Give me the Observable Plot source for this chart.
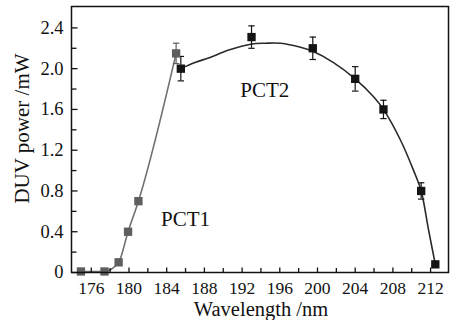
<!DOCTYPE html>
<html><head><meta charset="utf-8">
<script src="https://cdn.jsdelivr.net/npm/d3@7"></script>
<script src="https://cdn.jsdelivr.net/npm/@observablehq/plot@0.6"></script>
<style>
body{margin:0;background:#fff}
#chart svg, #chart svg text {font-family: "Liberation Serif", "Times New Roman", serif !important;}
</style>
</head><body><div id="chart"></div>
<script>
// PCT1 (grey) measured points
const pct1X = [174.9, 177.4, 178.9, 179.9, 181.0, 185.0];
const pct1Y = [0.01, 0.01, 0.10, 0.40, 0.70, 2.15];
const pct1Err = [0, 0, 0, 0, 0.03, 0.10];
// PCT2 (black) measured points
const pct2X = [185.5, 193.0, 199.5, 204.0, 207.0, 211.0, 212.5];
const pct2Y = [2.00, 2.31, 2.20, 1.90, 1.60, 0.80, 0.08];
const pct2Err = [0.12, 0.11, 0.11, 0.12, 0.09, 0.08, 0];
// PCT2 fitted curve
const fitX = [185.5, 187.0, 188.6, 190.5, 192.9, 194.5, 196.1, 198.2, 199.5, 201.7, 204.0, 206.0, 207.0, 208.8, 210.2, 211.0, 211.8, 212.5];
const fitY = [2.00, 2.06, 2.11, 2.18, 2.24, 2.25, 2.25, 2.21, 2.17, 2.06, 1.90, 1.72, 1.60, 1.30, 1.00, 0.80, 0.41, 0.08];
// ticks
const xTicks = [176, 180, 184, 188, 192, 196, 200, 204, 208, 212];
const xMinor = [178, 182, 186, 190, 194, 198, 202, 206, 210];
const yTicks = [0, 0.4, 0.8, 1.2, 1.6, 2.0, 2.4];
const yMinor = [0.2, 0.6, 1.0, 1.4, 1.8, 2.2];
// annotations
const noteText = ["PCT1", "PCT2"];
const noteX = [186.0, 194.4];
const noteY = [0.52, 1.79];
const xLabel = "Wavelength /nm";
const yLabel = "DUV power /mW";

const pct1 = pct1X.map((x, i) => ({x, y: pct1Y[i], e: pct1Err[i]}));
const pct2 = pct2X.map((x, i) => ({x, y: pct2Y[i], e: pct2Err[i]}));
const fit = fitX.map((x, i) => ({x, y: fitY[i]}));

const FONT = "'Liberation Serif', 'Times New Roman', serif";
const grey = "#5e5e5e", black = "#141414";
const tickUp = (len) => ({draw(c) { c.moveTo(0, 0); c.lineTo(0, -len); }});
const tickRight = (len) => ({draw(c) { c.moveTo(0, 0); c.lineTo(len, 0); }});
const cap = {draw(c) { c.moveTo(-3.2, 0); c.lineTo(3.2, 0); }};

function errMarks(data, color) {
  const d = data.filter(p => p.e > 0);
  return [
    Plot.ruleX(d, {x: "x", y1: p => p.y - p.e, y2: p => p.y + p.e, stroke: color, strokeWidth: 1.2}),
    Plot.dot(d, {x: "x", y: p => p.y + p.e, symbol: cap, stroke: color, fill: "none", strokeWidth: 1.2}),
    Plot.dot(d, {x: "x", y: p => p.y - p.e, symbol: cap, stroke: color, fill: "none", strokeWidth: 1.2})
  ];
}

const plot = Plot.plot({
  width: 456, height: 320,
  marginLeft: 71, marginRight: 8, marginTop: 6, marginBottom: 48,
  style: {fontFamily: FONT, fontSize: "18px", color: "#111", background: "white"},
  x: {domain: [173.9, 213.9]},
  y: {domain: [0, 2.61]},
  marks: [
    Plot.line(pct1, {x: "x", y: "y", curve: "monotone-x", stroke: "#707070", strokeWidth: 1.6}),
    Plot.line(fit, {x: "x", y: "y", curve: "catmull-rom", stroke: "#2a2a2a", strokeWidth: 1.6}),
    ...errMarks(pct1, grey),
    ...errMarks(pct2, black),
    Plot.dot(pct1, {x: "x", y: "y", symbol: "square", r: 4.7, fill: grey, stroke: "none"}),
    Plot.dot(pct2, {x: "x", y: "y", symbol: "square", r: 4.7, fill: black, stroke: "none"}),
    Plot.frame({stroke: "#111", strokeWidth: 1.5}),
    Plot.dot(xTicks, {x: d => d, frameAnchor: "bottom", symbol: tickUp(5), stroke: "#111", fill: "none", strokeWidth: 1.3}),
    Plot.dot(xMinor, {x: d => d, frameAnchor: "bottom", symbol: tickUp(4.5), stroke: "#111", fill: "none", strokeWidth: 1.3}),
    Plot.dot(yTicks, {y: d => d, frameAnchor: "left", symbol: tickRight(6), stroke: "#111", fill: "none", strokeWidth: 1.3}),
    Plot.dot(yMinor, {y: d => d, frameAnchor: "left", symbol: tickRight(5), stroke: "#111", fill: "none", strokeWidth: 1.3}),
    Plot.axisX(xTicks, {tickSize: 0, tickPadding: 9, label: null, fontFamily: FONT, fontSize: 17.5}),
    Plot.axisY(yTicks, {tickSize: 0, tickPadding: 8, label: null, fontFamily: FONT, fontSize: 18.5, tickFormat: d => d === 0 ? "0" : d.toFixed(1)}),
    Plot.text(noteText, {x: noteX, y: noteY, fontSize: 21, fontFamily: FONT, fill: "#111"}),
    Plot.text([xLabel], {frameAnchor: "bottom", dx: 1, dy: 43, lineAnchor: "bottom", textAnchor: "middle", fontSize: 20.5, fontFamily: FONT, fill: "#111"}),
    Plot.text([yLabel], {frameAnchor: "left", rotate: -90, dx: -42.5, dy: -11, lineAnchor: "bottom", textAnchor: "middle", fontSize: 21, fontFamily: FONT, fill: "#111"})
  ]
});
document.getElementById("chart").appendChild(plot);
</script>
</body></html>
